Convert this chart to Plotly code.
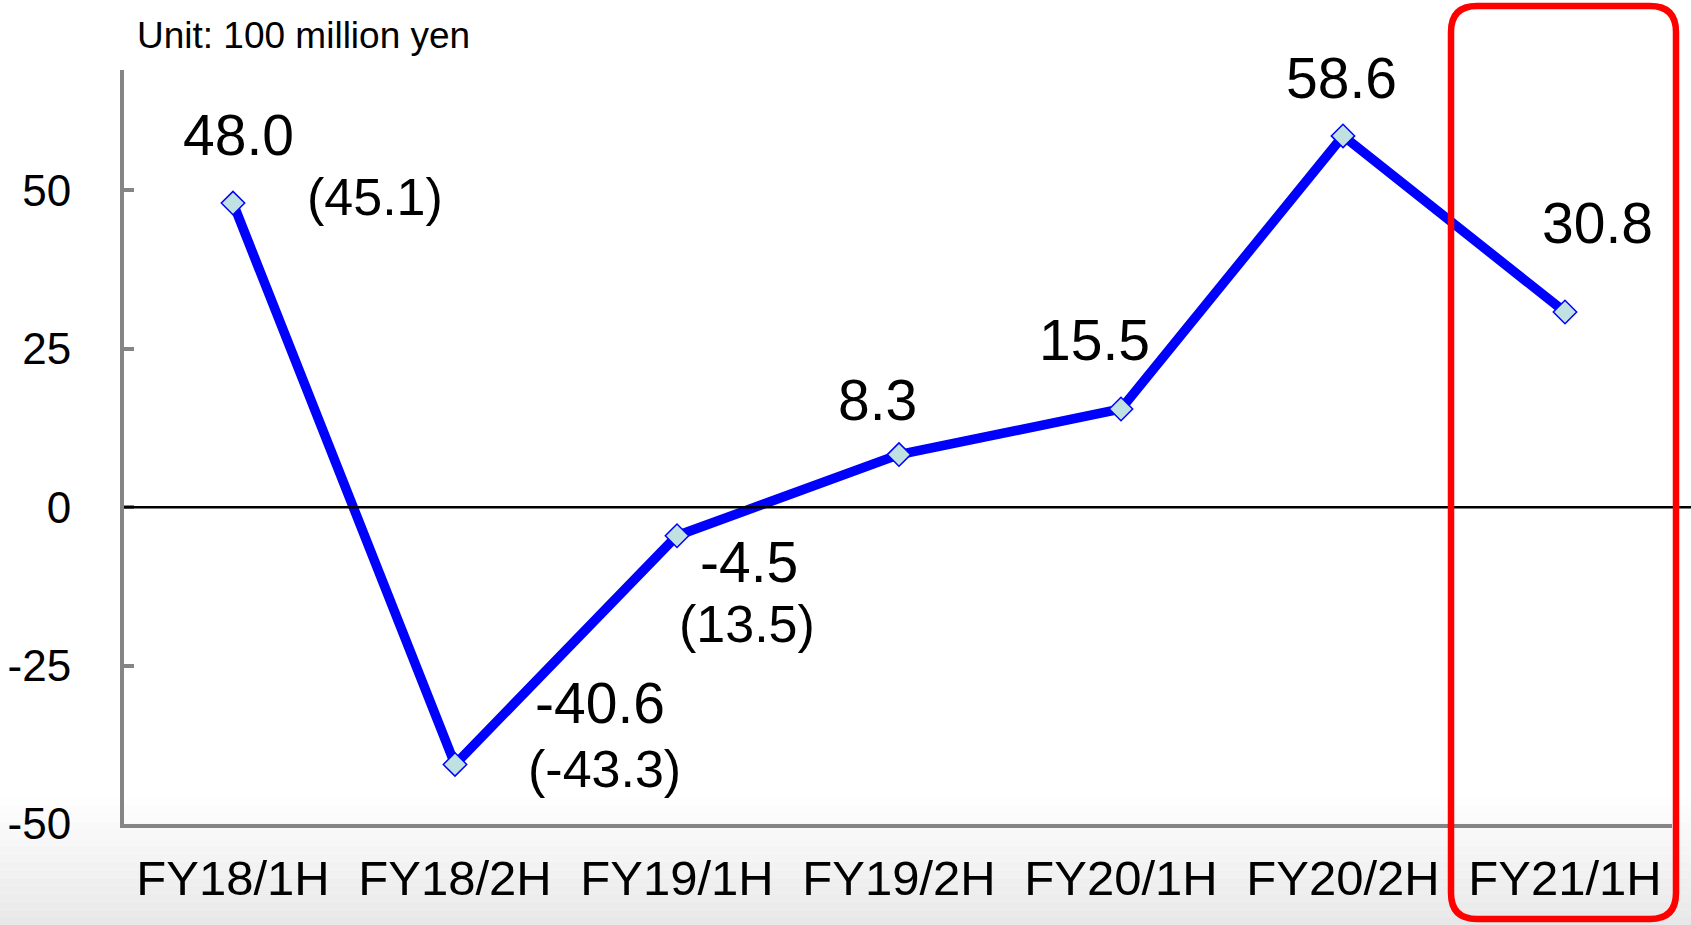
import plotly.graph_objects as go

categories = ["FY18/1H", "FY18/2H", "FY19/1H", "FY19/2H", "FY20/1H", "FY20/2H", "FY21/1H"]
values = [48.0, -40.6, -4.5, 8.3, 15.5, 58.6, 30.8]
main_labels = ["48.0", "-40.6", "-4.5", "8.3", "15.5", "58.6", "30.8"]
sub_labels = ["(45.1)", "(-43.3)", "(13.5)", "", "", "", ""]
y_ticks = [-50, -25, 0, 25, 50]
y_tick_text = ["-50", "-25", "0", "25", "50"]

# label offsets in pixels (style only)
main_offsets = [(5, 68), (145, 61), (72, -26), (-22, 55), (-27, 69), (-2, 58), (32, 89)]
sub_offsets = [(142, 6), (149, -5), (70, -88), (0, 0), (0, 0), (0, 0), (0, 0)]

W, H = 1691, 925
L, R, T, B = 124, 1672, 70, 824  # plot area pixels

def px(x):
    return (x - L) / (R - L)

def py(y):
    return (B - y) / (B - T)

FONT = "Liberation Sans, Arial, sans-serif"

fig = go.Figure()
fig.add_trace(go.Scatter(
    x=categories, y=values, mode="lines+markers",
    line=dict(color="#0000ff", width=9.5),
    marker=dict(symbol="diamond", size=18, color="#bfe1e1",
                line=dict(color="#0000ff", width=1.5)),
    hoverinfo="skip", cliponaxis=False,
))

annotations = []
for i, (c, v) in enumerate(zip(categories, values)):
    dx, dy = main_offsets[i]
    annotations.append(dict(x=c, y=v, xref="x", yref="y", text=main_labels[i],
                            showarrow=False, xshift=dx, yshift=dy,
                            font=dict(family=FONT, size=57, color="black")))
    if sub_labels[i]:
        dx, dy = sub_offsets[i]
        annotations.append(dict(x=c, y=v, xref="x", yref="y", text=sub_labels[i],
                                showarrow=False, xshift=dx, yshift=dy,
                                font=dict(family=FONT, size=52, color="black")))

annotations.append(dict(x=px(135), y=py(35), xref="paper", yref="paper",
                        xanchor="left", yanchor="middle", showarrow=False,
                        text="Unit: 100 million yen",
                        font=dict(family=FONT, size=37, color="black")))

shapes = []
# bottom background gradient
n = 16
y0p, y1p = 798, 925
for k in range(n):
    ya = y0p + (y1p - y0p) * k / n
    yb = y0p + (y1p - y0p) * (k + 1) / n
    g = int(255 - (255 - 232) * (k + 0.5) / n)
    col = f"rgb({g},{g},{g})"
    shapes.append(dict(type="rect", xref="paper", yref="paper",
                       x0=px(0), x1=px(W), y0=py(yb), y1=py(ya),
                       fillcolor=col, line=dict(width=0), layer="below"))

# zero line
shapes.append(dict(type="line", xref="paper", yref="y", x0=0, x1=px(W), y0=0, y1=0,
                   line=dict(color="black", width=2.5), layer="above"))

# red rounded highlight box
bx0, bx1, by0, by1, r = 1451, 1676, 6, 919, 26
path = (f"M {px(bx0 + r)},{py(by0)} L {px(bx1 - r)},{py(by0)} "
        f"Q {px(bx1)},{py(by0)} {px(bx1)},{py(by0 + r)} "
        f"L {px(bx1)},{py(by1 - r)} Q {px(bx1)},{py(by1)} {px(bx1 - r)},{py(by1)} "
        f"L {px(bx0 + r)},{py(by1)} Q {px(bx0)},{py(by1)} {px(bx0)},{py(by1 - r)} "
        f"L {px(bx0)},{py(by0 + r)} Q {px(bx0)},{py(by0)} {px(bx0 + r)},{py(by0)} Z")
shapes.append(dict(type="path", xref="paper", yref="paper", path=path,
                   line=dict(color="#ff0000", width=6.5), layer="above"))

fig.update_layout(
    width=W, height=H,
    margin=dict(l=L, r=W - R, t=T, b=H - B, pad=0, autoexpand=False),
    paper_bgcolor="white", plot_bgcolor="rgba(0,0,0,0)",
    showlegend=False,
    annotations=annotations, shapes=shapes,
    font=dict(family=FONT, color="black"),
    xaxis=dict(type="category", range=[-0.491, 6.482], showgrid=False, zeroline=False,
               showline=True, linecolor="#858585", linewidth=4, ticks="",
               automargin=False,
               tickfont=dict(family=FONT, size=49, color="black"),
               ticklabelstandoff=8),
    yaxis=dict(range=[-50, 69], tickvals=y_ticks, ticktext=y_tick_text,
               showgrid=False, zeroline=False, automargin=False,
               showline=True, linecolor="#858585", linewidth=4,
               ticks="inside", ticklen=10, tickwidth=4, tickcolor="#858585",
               tickfont=dict(family=FONT, size=44, color="black"),
               ticklabelstandoff=40),
)

fig.write_html("out.html")
